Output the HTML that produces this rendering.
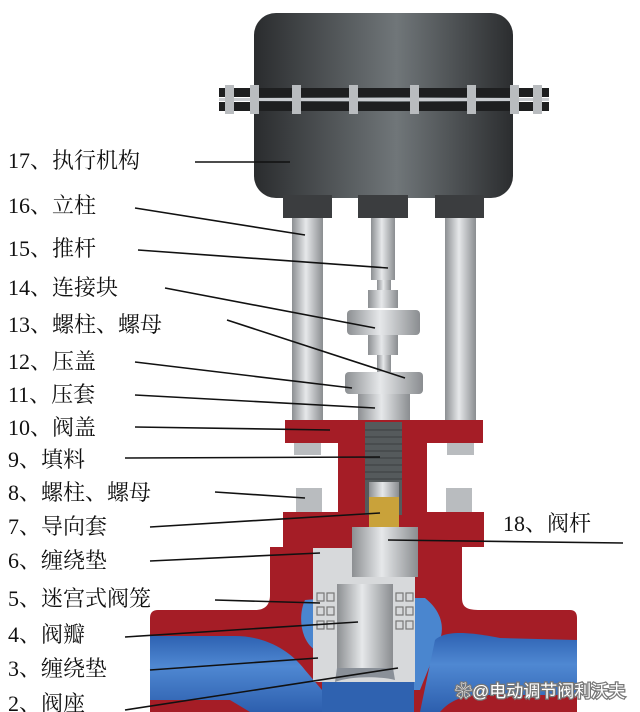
<!DOCTYPE html>
<html><head><meta charset="utf-8"><style>
html,body{margin:0;padding:0;background:#fff;width:640px;height:712px;overflow:hidden}
svg{display:block}
text{font-family:"Liberation Serif","Noto Serif CJK SC",serif;font-size:22px;fill:#111}
</style></head><body>
<svg width="640" height="712" viewBox="0 0 640 712">
<defs>
<linearGradient id="dk" x1="0" x2="1"><stop offset="0" stop-color="#2a2c2e"/><stop offset="0.55" stop-color="#707679"/><stop offset="1" stop-color="#2b2d2f"/></linearGradient>
<linearGradient id="mt" x1="0" x2="1"><stop offset="0" stop-color="#8c8f92"/><stop offset="0.45" stop-color="#e6e8ea"/><stop offset="1" stop-color="#8a8d90"/></linearGradient>
<linearGradient id="bl" x1="0" x2="0" y1="0" y2="1"><stop offset="0" stop-color="#2e62b2"/><stop offset="0.4" stop-color="#4f88d2"/><stop offset="1" stop-color="#2d5fae"/></linearGradient>
</defs>
<!-- actuator -->
<rect x="254" y="13" width="259" height="185" rx="22" fill="url(#dk)"/>
<rect x="219" y="88" width="330" height="9" fill="#1e1f20"/>
<rect x="219" y="98" width="330" height="3" fill="#c9ccd0"/>
<rect x="219" y="102" width="330" height="9" fill="#1e1f20"/>
<g fill="#b9bcbf">
<rect x="225" y="85" width="9" height="29"/><rect x="250" y="85" width="9" height="29"/><rect x="292" y="85" width="9" height="29"/><rect x="349" y="85" width="9" height="29"/><rect x="410" y="85" width="9" height="29"/><rect x="467" y="85" width="9" height="29"/><rect x="510" y="85" width="9" height="29"/><rect x="533" y="85" width="9" height="29"/>
</g>
<rect x="283" y="195" width="49" height="23" fill="#3b3d3f"/>
<rect x="358" y="195" width="50" height="23" fill="#3b3d3f"/>
<rect x="435" y="195" width="49" height="23" fill="#3b3d3f"/>
<!-- posts -->
<rect x="292" y="218" width="31" height="205" fill="url(#mt)"/>
<rect x="445" y="218" width="31" height="205" fill="url(#mt)"/>
<!-- push rod & connector -->
<rect x="371" y="218" width="24" height="62" fill="url(#mt)"/>
<rect x="377" y="280" width="14" height="20" fill="url(#mt)"/>
<rect x="368" y="290" width="30" height="18" fill="url(#mt)"/>
<rect x="347" y="310" width="73" height="25" rx="4" fill="url(#mt)"/>
<rect x="368" y="335" width="30" height="20" fill="url(#mt)"/>
<rect x="377" y="355" width="14" height="18" fill="url(#mt)"/>
<rect x="345" y="372" width="78" height="22" rx="4" fill="url(#mt)"/>
<rect x="358" y="394" width="52" height="28" fill="url(#mt)"/>
<!-- lower body red -->
<path d="M285 420 H483 V443 H427 V512 H484 V547 H462 V598 C462 608 468 610 480 610 H570 Q577 610 577 618 V712 H150 V618 Q150 610 158 610 H255 C265 610 270 605 270 595 V547 H283 V512 H338 V443 H285 Z" fill="#a51d26"/>
<!-- blue passages -->
<path d="M150 636 H235 C265 636 290 650 305 670 L322 690 L322 712 H150 Z" fill="url(#bl)"/>
<path d="M150 700 H230 L250 712 H150 Z" fill="#a51d26"/>
<path d="M305 600 C298 615 300 640 315 650 L330 650 L330 598 Z" fill="#4a86cf"/>
<path d="M413 598 L425 598 C440 610 445 625 440 640 L420 690 L413 690 Z" fill="#4a86cf"/>
<path d="M435 640 C445 630 470 632 500 638 L577 640 V695 H480 C465 695 450 700 440 712 H420 Z" fill="url(#bl)"/>
<rect x="322" y="682" width="92" height="30" fill="#2f62b0"/>
<!-- bonnet internals -->
<rect x="365" y="422" width="37" height="93" fill="#555a5c"/>
<g stroke="#3b3f41" stroke-width="1"><path d="M365 430H402M365 437H402M365 444H402M365 451H402M365 458H402M365 465H402M365 472H402M365 479H402"/></g>
<rect x="369" y="482" width="30" height="15" fill="url(#mt)"/>
<rect x="369" y="497" width="30" height="33" fill="#c9a23a"/>
<!-- cage -->
<rect x="313" y="548" width="102" height="134" fill="#d7d9db"/>
<rect x="352" y="527" width="66" height="50" fill="url(#mt)"/>
<rect x="337" y="584" width="56" height="84" fill="url(#mt)"/>
<path d="M337 668 H393 L395 680 C380 676 350 676 335 682 Z" fill="#8a9098"/>
<g fill="none" stroke="#777" stroke-width="1.2">
<rect x="317" y="593" width="7" height="8"/><rect x="327" y="593" width="7" height="8"/><rect x="317" y="607" width="7" height="8"/><rect x="327" y="607" width="7" height="8"/><rect x="317" y="621" width="7" height="8"/><rect x="327" y="621" width="7" height="8"/>
<rect x="396" y="593" width="7" height="8"/><rect x="406" y="593" width="7" height="8"/><rect x="396" y="607" width="7" height="8"/><rect x="406" y="607" width="7" height="8"/><rect x="396" y="621" width="7" height="8"/><rect x="406" y="621" width="7" height="8"/>
</g>
<!-- nuts -->
<g fill="#b9bcbf"><rect x="294" y="443" width="27" height="12"/><rect x="447" y="443" width="27" height="12"/><rect x="296" y="488" width="26" height="24"/><rect x="446" y="488" width="26" height="24"/></g>
<!-- leader lines -->
<g stroke="#111" stroke-width="1.6">
<line x1="195" y1="162" x2="290" y2="162"/>
<line x1="135" y1="208" x2="305" y2="235"/>
<line x1="138" y1="250" x2="388" y2="268"/>
<line x1="165" y1="288" x2="375" y2="328"/>
<line x1="227" y1="320" x2="405" y2="378"/>
<line x1="135" y1="362" x2="352" y2="388"/>
<line x1="135" y1="395" x2="375" y2="408"/>
<line x1="135" y1="427" x2="330" y2="430"/>
<line x1="125" y1="458" x2="380" y2="457"/>
<line x1="215" y1="492" x2="305" y2="498"/>
<line x1="150" y1="527" x2="380" y2="513"/>
<line x1="150" y1="561" x2="320" y2="553"/>
<line x1="215" y1="600" x2="320" y2="603"/>
<line x1="125" y1="637" x2="358" y2="622"/>
<line x1="150" y1="670" x2="318" y2="658"/>
<line x1="125" y1="710" x2="398" y2="668"/>
<line x1="388" y1="540" x2="623" y2="543"/>
</g>
<!-- labels -->
<text x="8" y="168">17、执行机构</text>
<text x="8" y="213">16、立柱</text>
<text x="8" y="256">15、推杆</text>
<text x="8" y="295">14、连接块</text>
<text x="8" y="332">13、螺柱、螺母</text>
<text x="8" y="369">12、压盖</text>
<text x="8" y="402">11、压套</text>
<text x="8" y="435">10、阀盖</text>
<text x="8" y="467">9、填料</text>
<text x="8" y="500">8、螺柱、螺母</text>
<text x="8" y="534">7、导向套</text>
<text x="8" y="568">6、缠绕垫</text>
<text x="8" y="606">5、迷宫式阀笼</text>
<text x="8" y="642">4、阀瓣</text>
<text x="8" y="676">3、缠绕垫</text>
<text x="8" y="711">2、阀座</text>
<text x="503" y="531">18、阀杆</text>
<text x="455" y="697" style="font-family:'Liberation Sans','Noto Sans CJK SC',sans-serif;font-size:17px;fill:#fff;stroke:#777;stroke-width:2.5px;paint-order:stroke">❀@电动调节阀利沃夫</text>
</svg>
</body></html>
